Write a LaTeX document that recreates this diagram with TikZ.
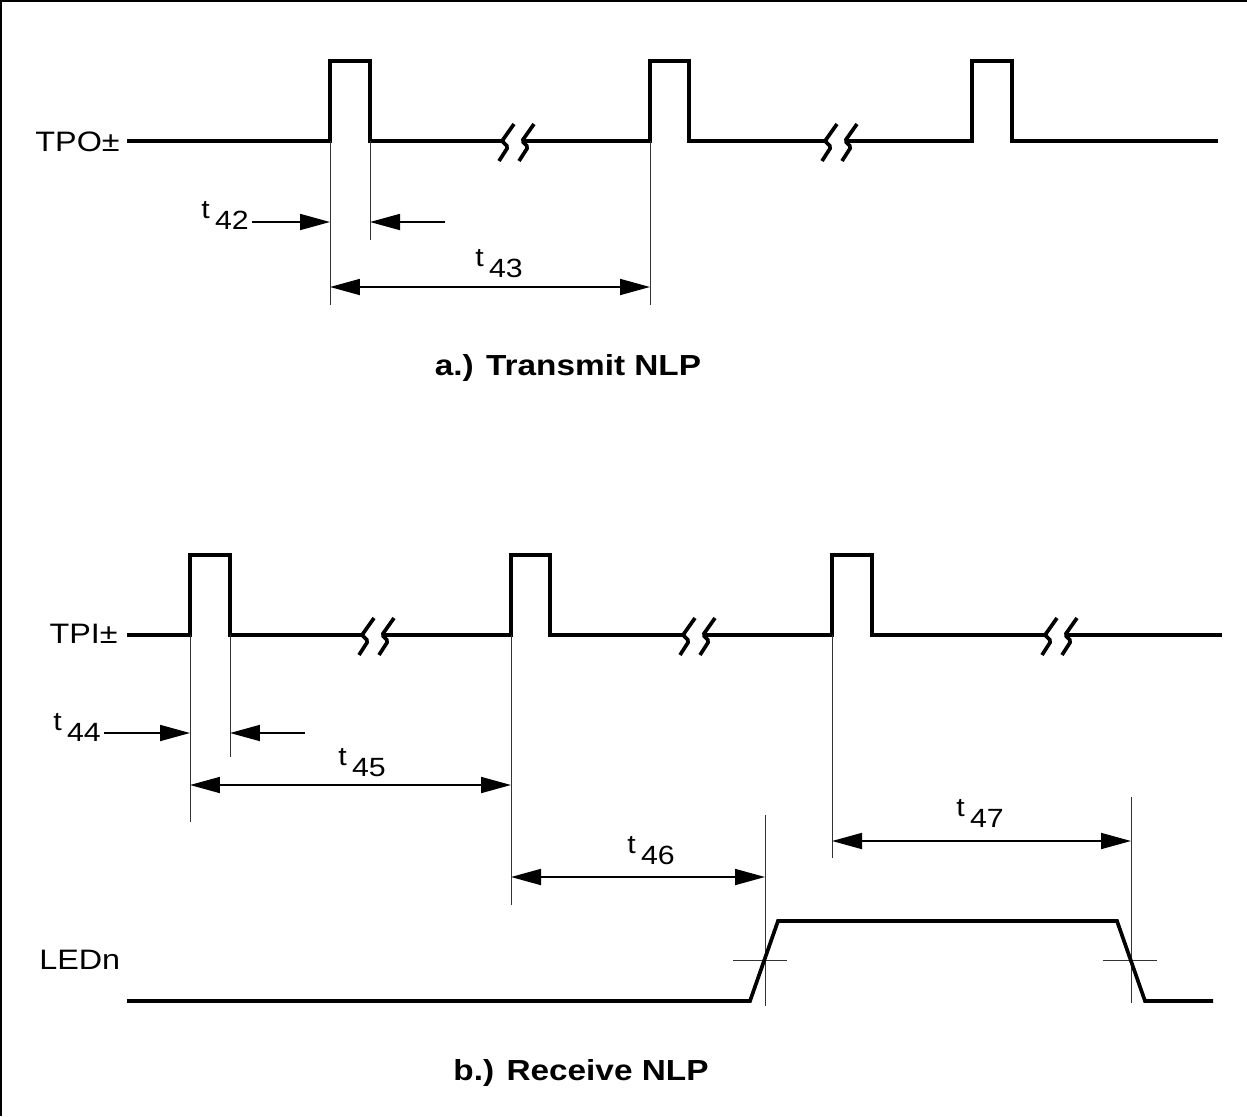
\documentclass[tikz,border=0pt]{standalone}
\usepackage{fontspec}
\setmainfont[FakeStretch=1.15]{Liberation Sans}
\usetikzlibrary{arrows.meta}
\newcommand{\tlab}[1]{\raisebox{6pt}{t}\hspace{3pt}#1}

\begin{document}
\begin{tikzpicture}[x=0.02cm, y=-0.02cm,
    wave/.style={line width=2.1pt},
    ext/.style={line width=0.5pt, black!80},
    dim/.style={line width=1pt, -{Triangle[length=0.6cm, width=0.32cm]}},
    dimb/.style={line width=1pt, {Triangle[length=0.6cm, width=0.32cm]}-{Triangle[length=0.6cm, width=0.32cm]}},
    sig/.style={font=\fontsize{16}{19}\selectfont, inner sep=0pt},
    lbl/.style={font=\fontsize{15}{18}\selectfont, inner sep=0pt},
    ttl/.style={font=\fontsize{16.5}{20}\selectfont\bfseries, inner sep=0pt},
    brk/.pic={
      \fill[white] (-11,-5) rectangle (9,5);
      \draw[wave, rounded corners=1pt] (1,-17) -- (-11,0) -- (-5,6) -- (-14,20);
      \draw[wave, rounded corners=1pt] (21,-17) -- (9,0) -- (15,6) -- (6,20);
    }]
  \useasboundingbox (0,0) rectangle (1247,1116);
  \draw[line width=0.04cm] (0,1) -- (1247,1) (1,0) -- (1,1116);

  % a.) transmit
  \node[sig, anchor=base east] (tpo) at (120,151) {TPO±};
  \draw[wave] (127,141) -- (330,141) -- (330,61) -- (370,61) -- (370,141)
    -- (650,141) -- (650,61) -- (689,61) -- (689,141)
    -- (972,141) -- (972,61) -- (1012,61) -- (1012,141) -- (1218,141);
  \pic at (513,141) {brk};
  \pic at (836,141) {brk};
  \draw[ext] (330,141) -- (330,305) (370,141) -- (370,240) (650,141) -- (650,305);
  \coordinate (e42a) at (330,222);
  \coordinate (e42b) at (370,222);
  \coordinate (f42) at (445,222);
  \node[lbl, anchor=base west] (t42) at (201,229) {\tlab{42}};
  \draw[dim] (t42.east |- e42a) ++(3,0) -- (e42a);
  \draw[dim] (f42) -- (e42b);
  \coordinate (e43a) at (330,287);
  \coordinate (e43b) at (650,287);
  \draw[dimb] (e43a) -- (e43b);
  \node[lbl, anchor=base west] (t43) at (475,277) {\tlab{43}};
  \node[ttl, anchor=base] (capa) at (568,375) {a.) Transmit NLP};

  % b.) receive
  \node[sig, anchor=base east] (tpi) at (118,643) {TPI±};
  \draw[wave] (127,635) -- (190,635) -- (190,555) -- (230,555) -- (230,635)
    -- (511,635) -- (511,555) -- (550,555) -- (550,635)
    -- (832,635) -- (832,555) -- (872,555) -- (872,635) -- (1222,635);
  \pic at (373,635) {brk};
  \pic at (694,635) {brk};
  \pic at (1056,635) {brk};
  \draw[ext] (190,635) -- (190,822) (230,635) -- (230,757)
    (511,635) -- (511,905) (832,635) -- (832,858)
    (765,815) -- (765,1006) (1131,797) -- (1131,1003)
    (733,960) -- (787,960) (1103,960) -- (1157,960);
  \coordinate (e44a) at (190,733);
  \coordinate (e44b) at (230,733);
  \coordinate (f44) at (305,733);
  \node[lbl, anchor=base west] (t44) at (53,741) {\tlab{44}};
  \draw[dim] (t44.east |- e44a) ++(3,0) -- (e44a);
  \draw[dim] (f44) -- (e44b);
  \coordinate (e45a) at (190,785);
  \coordinate (e45b) at (511,785);
  \draw[dimb] (e45a) -- (e45b);
  \node[lbl, anchor=base west] (t45) at (338,776) {\tlab{45}};
  \coordinate (e46a) at (511,877);
  \coordinate (e46b) at (765,877);
  \draw[dimb] (e46a) -- (e46b);
  \node[lbl, anchor=base west] (t46) at (627,864) {\tlab{46}};
  \coordinate (e47a) at (832,841);
  \coordinate (e47b) at (1131,841);
  \draw[dimb] (e47a) -- (e47b);
  \node[lbl, anchor=base west] (t47) at (956,827) {\tlab{47}};

  \node[sig, anchor=base west] (led) at (39,969) {LEDn};
  \draw[wave] (127,1001) -- (750,1001) -- (778,921) -- (1117,921) -- (1145,1001) -- (1213,1001);
  \node[ttl, anchor=base] (capb) at (581,1080) {b.) Receive NLP};
\end{tikzpicture}
\end{document}
